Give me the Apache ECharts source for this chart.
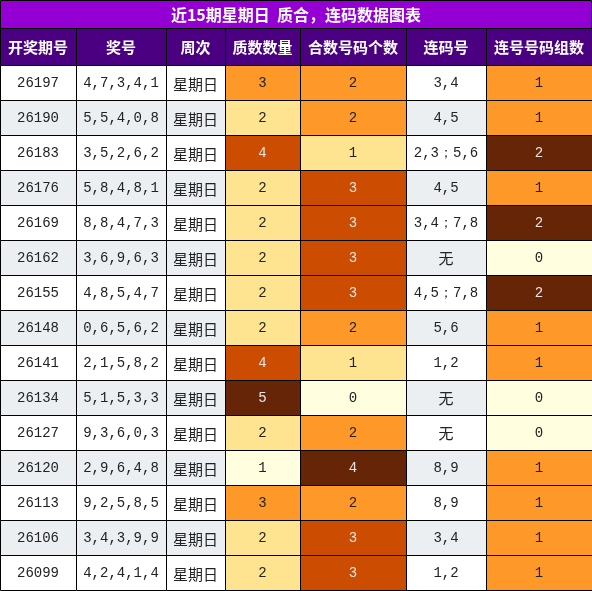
<!DOCTYPE html>
<html><head><meta charset="utf-8">
<script src="https://cdn.jsdelivr.net/npm/echarts@6/dist/echarts.min.js"></script>
<style>html,body{margin:0;padding:0;background:#fff}#c{width:592px;height:591px}</style>
</head><body><div id="c"></div>
<script>
const title = '近15期星期日  质合，连码数据图表';
const headers = ['开奖期号','奖号','周次','质数数量','合数号码个数','连码号','连号号码组数'];
const issues = ['26197','26190','26183','26176','26169','26162','26155','26148','26141','26134','26127','26120','26113','26106','26099'];
const numbers = ['4,7,3,4,1','5,5,4,0,8','3,5,2,6,2','5,8,4,8,1','8,8,4,7,3','3,6,9,6,3','4,8,5,4,7','0,6,5,6,2','2,1,5,8,2','5,1,5,3,3','9,3,6,0,3','2,9,6,4,8','9,2,5,8,5','3,4,3,9,9','4,2,4,1,4'];
const weekday = Array(15).fill('星期日');
const primeCount = [3,2,4,2,2,2,2,2,4,5,2,1,3,2,2];
const compositeCount = [2,2,1,3,3,3,3,2,1,0,2,4,2,3,3];
const consecutive = ['3,4','4,5','2,3；5,6','4,5','3,4；7,8','无','4,5；7,8','5,6','1,2','无','无','8,9','8,9','3,4','1,2'];
const consecGroups = [1,1,2,1,2,0,2,1,1,0,0,1,1,1,1];

const edges = [0,76,166,225,300,406,486,592];
const palette = ['#ffffe0','#fee391','#fe9929','#cc4c02','#662506'];
const rowBg = ['#ffffff','#ebeff2'];

function heat(arr){const mn=Math.min(...arr),mx=Math.max(...arr);
  return v=>Math.round((v-mn)/(mx-mn)*4);}
const cols=[issues,numbers,weekday,primeCount,compositeCount,consecutive,consecGroups];
const heatCols={3:heat(primeCount),4:heat(compositeCount),6:heat(consecGroups)};
const data=[];
for(let r=0;r<15;r++){for(let c=0;c<7;c++){
  let fill=rowBg[r%2],tc='#222';
  if(heatCols[c]){const k=heatCols[c](cols[c][r]);fill=palette[k];if(k>=3)tc='#e6e6e6';}
  data.push([c,r,String(cols[c][r]),fill,tc]);
}}
const rows=issues.map((_,i)=>String(i));
const chart=echarts.init(document.getElementById('c'));
const headerGraphics=headers.map((h,i)=>({type:'group',children:[
  {type:'rect',shape:{x:edges[i]+0.5,y:28.5,width:edges[i+1]-edges[i],height:37},style:{fill:'#4b0082',stroke:'#000',lineWidth:1}},
  {type:'text',x:(edges[i]+edges[i+1])/2,y:47,style:{text:h,fill:'#fff',font:'bold 15px "Noto Sans CJK SC"',align:'center',verticalAlign:'middle'}}
]}));
chart.setOption({
  animation:false,
  graphic:[
    {type:'rect',shape:{x:0.5,y:0.5,width:591,height:28},style:{fill:'#9400d3',stroke:'#000',lineWidth:1}},
    {type:'text',x:296,y:15,style:{text:title,fill:'#fff',font:'bold 16px "Noto Sans CJK SC"',align:'center',verticalAlign:'middle'}},
    ...headerGraphics
  ],
  grid:{left:0,right:0,top:65.5,bottom:0.5},
  xAxis:{type:'value',min:0,max:592,show:false},
  yAxis:{type:'category',data:rows,inverse:true,show:false},
  series:[{type:'custom',data:data,renderItem:function(params,api){
    const c=api.value(0),r=api.value(1);
    const p0=api.coord([edges[c],r]);const p1=api.coord([edges[c+1],r]);
    const h=api.size([0,1])[1];
    const txt=data[params.dataIndex][2];
    const isCJK=/[\u4e00-\u9fff]/.test(txt)&&!/[0-9]/.test(txt);
    return {type:'group',children:[
      {type:'rect',shape:{x:p0[0]+0.5,y:p0[1]-h/2,width:p1[0]-p0[0],height:h},style:{fill:data[params.dataIndex][3],stroke:'#000',lineWidth:1}},
      {type:'text',x:(p0[0]+p1[0])/2,y:p0[1]+(c===2?1:0),style:{text:txt,fill:data[params.dataIndex][4],
        font:(isCJK?'15px "Noto Sans CJK SC"':'14px "Liberation Mono","DejaVu Sans Mono",monospace'),align:'center',verticalAlign:'middle'}}
    ]};
  }}]
});
</script></body></html>
